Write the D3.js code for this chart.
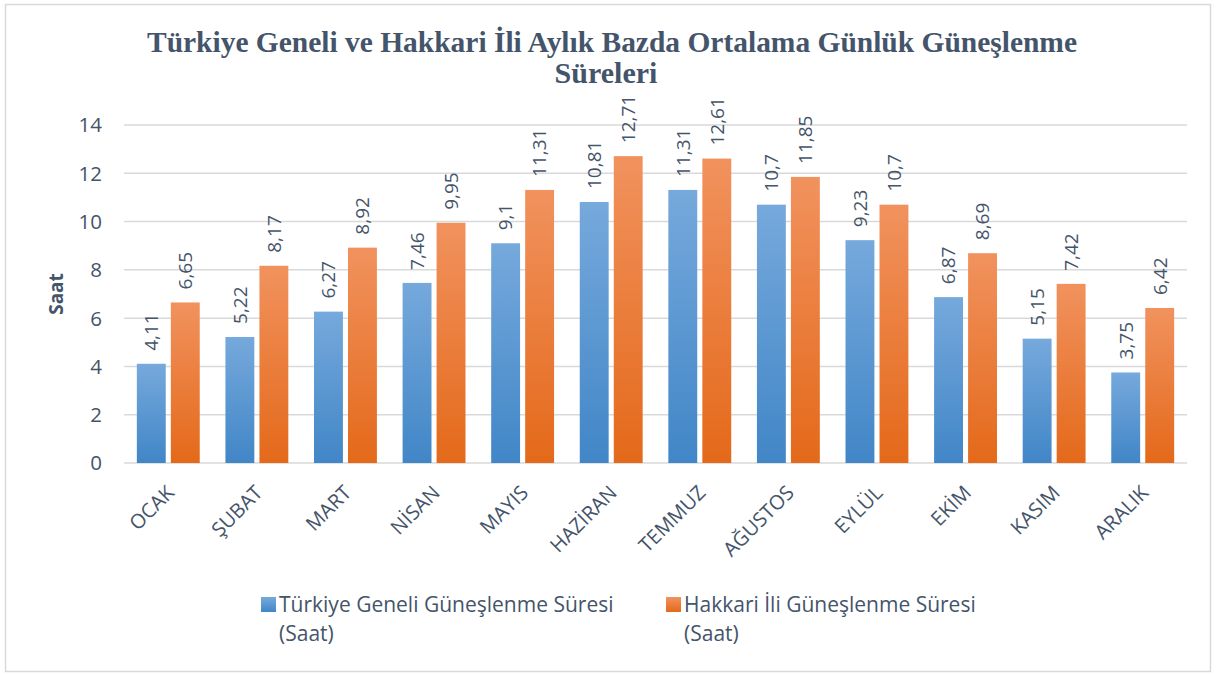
<!DOCTYPE html>
<html>
<head>
<meta charset="utf-8">
<script src="https://cdn.jsdelivr.net/npm/d3@7"></script>
<style>
  body { margin: 0; background: #fff; }
</style>
</head>
<body>
<script>
// months and the two series (hours per day)
const months = ["OCAK", "ŞUBAT", "MART", "NİSAN", "MAYIS", "HAZİRAN", "TEMMUZ", "AĞUSTOS", "EYLÜL", "EKİM", "KASIM", "ARALIK"];
const turkiye = [4.11, 5.22, 6.27, 7.46, 9.1, 10.81, 11.31, 10.7, 9.23, 6.87, 5.15, 3.75];
const hakkari = [6.65, 8.17, 8.92, 9.95, 11.31, 12.71, 12.61, 11.85, 10.7, 8.69, 7.42, 6.42];
const seriesNames = ["Türkiye Geneli Güneşlenme Süresi (Saat)", "Hakkari İli Güneşlenme Süresi (Saat)"];
const yTicks = [0, 2, 4, 6, 8, 10, 12, 14];

const width = 1217, height = 675;
const textColor = "#44546A";
const labelFont = "'Open Sans', sans-serif";

const svg = d3.select("body").append("svg")
    .attr("width", width)
    .attr("height", height);

const defs = svg.append("defs");
function grad(id, top, bottom) {
  const g = defs.append("linearGradient")
      .attr("id", id)
      .attr("x1", 0).attr("y1", 0).attr("x2", 0).attr("y2", 1);
  g.append("stop").attr("offset", "0%").attr("stop-color", top);
  g.append("stop").attr("offset", "100%").attr("stop-color", bottom);
}
grad("gBlue", "#76a9dc", "#4186c7");
grad("gOrange", "#f1925e", "#e4691a");

// outer frame
svg.append("rect")
    .attr("x", 5.5).attr("y", 4.5)
    .attr("width", 1205).attr("height", 667)
    .attr("fill", "#fff")
    .attr("stroke", "#d9d9d9")
    .attr("stroke-width", 1.5);

// title
const title = svg.append("text")
    .attr("text-anchor", "middle")
    .attr("font-family", "'Liberation Serif', 'Times New Roman', serif")
    .attr("font-weight", "bold")
    .attr("font-size", 30)
    .attr("fill", textColor);
title.append("tspan").attr("x", 612).attr("y", 52)
    .attr("textLength", 930).attr("lengthAdjust", "spacingAndGlyphs")
    .text("Türkiye Geneli ve Hakkari İli Aylık Bazda Ortalama Günlük Güneşlenme");
title.append("tspan").attr("x", 606).attr("y", 83).text("Süreleri");

const x = d3.scaleBand()
    .domain(months)
    .range([124, 1187])
    .paddingInner(0.29)
    .paddingOuter(0.145);

const x1 = d3.scaleBand()
    .domain([0, 1])
    .range([0, x.bandwidth()])
    .paddingInner(0.15);

const y = d3.scaleLinear()
    .domain([0, 14])
    .range([463, 125]);

// gridlines
svg.append("g")
    .selectAll("line")
    .data(yTicks)
    .join("line")
    .attr("x1", 124).attr("x2", 1187)
    .attr("y1", d => y(d)).attr("y2", d => y(d))
    .attr("stroke", "#d9d9d9")
    .attr("stroke-width", 1.5);

// y tick labels
svg.append("g")
    .attr("font-family", labelFont)
    .attr("font-size", 20.5)
    .attr("fill", textColor)
    .attr("text-anchor", "end")
    .selectAll("text")
    .data(yTicks)
    .join("text")
    .attr("x", 102)
    .attr("y", d => y(d))
    .attr("dy", "0.36em")
    .text(d => d);

// y axis title
svg.append("text")
    .attr("transform", "translate(63,294) rotate(-90)")
    .attr("text-anchor", "middle")
    .attr("font-family", labelFont)
    .attr("font-weight", "bold")
    .attr("font-size", 19)
    .attr("fill", textColor)
    .text("Saat");

const rows = months.map((m, i) => ({ m, vals: [turkiye[i], hakkari[i]] }));
const fills = ["url(#gBlue)", "url(#gOrange)"];

const groups = svg.append("g")
    .selectAll("g")
    .data(rows)
    .join("g")
    .attr("transform", d => `translate(${x(d.m)},0)`);

groups.selectAll("rect")
    .data(d => d.vals.map((v, k) => ({ v, k })))
    .join("rect")
    .attr("x", d => x1(d.k))
    .attr("width", x1.bandwidth())
    .attr("y", d => y(d.v))
    .attr("height", d => y(0) - y(d.v))
    .attr("fill", d => fills[d.k]);

// value labels, rotated
groups.selectAll("text")
    .data(d => d.vals.map((v, k) => ({ v, k })))
    .join("text")
    .attr("transform", d => `translate(${x1(d.k) + x1.bandwidth() / 2},${y(d.v) - 13}) rotate(-90)`)
    .attr("dy", "0.36em")
    .attr("font-family", labelFont)
    .attr("font-size", 19)
    .attr("fill", textColor)
    .text(d => String(d.v).replace(".", ","));

// x labels
svg.append("g")
    .attr("font-family", labelFont)
    .attr("font-size", 20)
    .attr("fill", textColor)
    .attr("text-anchor", "end")
    .selectAll("text")
    .data(months)
    .join("text")
    .attr("transform", d => `translate(${x(d) + x.bandwidth() / 2 + 7},${494}) rotate(-45)`)
    .text(d => d);

// legend
const legendX = [261, 666];
const leg = svg.append("g")
    .selectAll("g")
    .data(seriesNames)
    .join("g")
    .attr("transform", (d, i) => `translate(${legendX[i]},597)`);
leg.append("rect")
    .attr("width", 15).attr("height", 15)
    .attr("fill", (d, i) => fills[i]);
const lt = leg.append("text")
    .attr("font-family", labelFont)
    .attr("font-size", 21)
    .attr("fill", textColor);
lt.append("tspan").attr("x", 18).attr("y", 15).text(d => d.replace(" (Saat)", ""));
lt.append("tspan").attr("x", 18).attr("y", 44).text("(Saat)");
</script>
</body>
</html>
